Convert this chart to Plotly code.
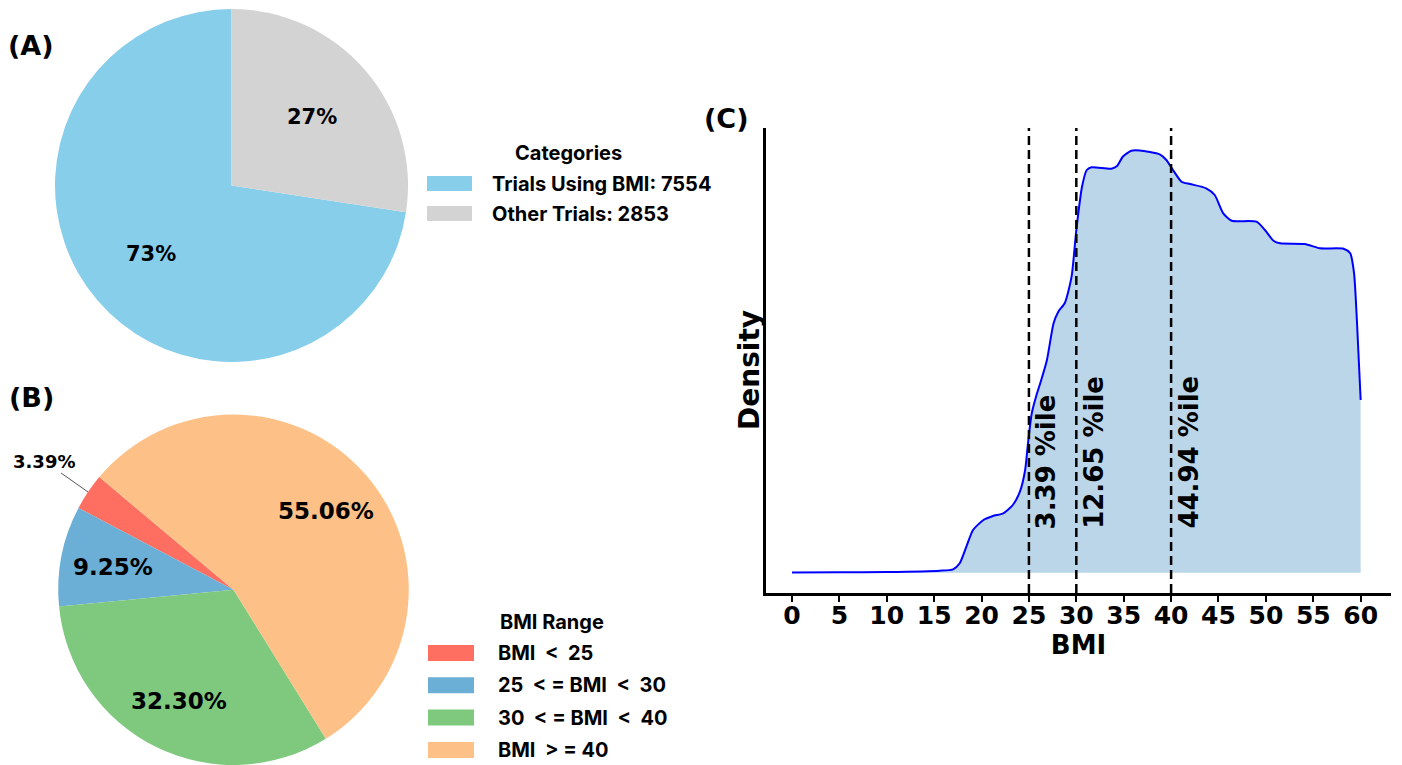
import math
import plotly.graph_objects as go

W, H = 1402, 765

# ---------------- Data ----------------
# Panel A
catA_labels = ["Trials Using BMI", "Other Trials"]
catA_counts = [7554, 2853]
catA_colors = ["#87CEEB", "#D3D3D3"]

# Panel B
catB_labels = ["BMI\u00a0 &lt;\u00a0 25", "25\u00a0 &lt; = BMI\u00a0 &lt;\u00a0 30",
               "30\u00a0 &lt; = BMI\u00a0 &lt;\u00a0 40", "BMI\u00a0 &gt; = 40"]
catB_pct = [3.39, 9.25, 32.30, 55.06]
catB_colors = ["#FF6F61", "#6BAED6", "#7FC97F", "#FDC086"]

# Panel C
bmi = [0, 5, 10, 15.6, 17.0, 17.7, 18.4, 19.1, 20.2, 21.2, 22.3, 23.3, 24.05, 24.6,
       24.9, 25.3, 25.8, 26.3, 26.9, 27.6, 28.1, 28.8, 29.5, 30.0, 30.6, 31.1, 31.6,
       33.7, 34.3, 34.9, 35.8, 36.7, 38.8, 39.5, 40.2, 41.1, 42.0, 43.7, 44.6, 45.5,
       46.4, 49.0, 49.9, 50.8, 51.5, 54.1, 55.7, 58.2, 58.9, 59.3, 59.6, 60.0]
density = [0.00002, 0.00004, 0.00007, 0.0002, 0.00034, 0.00094, 0.0026, 0.00427,
           0.00527, 0.00567, 0.00594, 0.00677, 0.0081, 0.01027, 0.01294, 0.01594,
           0.01777, 0.01927, 0.02127, 0.02494, 0.0261, 0.027, 0.0296, 0.03427,
           0.0386, 0.04027, 0.04054, 0.0404, 0.04067, 0.0416, 0.0422, 0.04222,
           0.04184, 0.04127, 0.04027, 0.0391, 0.03887, 0.03844, 0.03777, 0.03594,
           0.0352, 0.0351, 0.03427, 0.0332, 0.03294, 0.03287, 0.03244, 0.0324,
           0.03194, 0.02997, 0.02527, 0.01727]
thresholds = [25, 30, 40]
pctile = [3.39, 12.65, 44.94]
xticks = [0, 5, 10, 15, 20, 25, 30, 35, 40, 45, 50, 55, 60]

# ---------------- Layout constants ----------------
PIE_FONT = "DejaVu Sans"
LEG_FONT = "Inter"
AX_FONT = "DejaVu Sans"

# pie A geometry (pixels)
cAx, cAy, RA = 231.5, 185.5, 176.5
startA = 90.0
# pie B geometry (pixels)
RB = 175.25
cBx, cBy = 233.5, H - RB
startB = 140.0


def px(x):
    return x / W


def py(y):
    return 1 - y / H


def label_positions(values, start, cx, cy, R, dist):
    total = float(sum(values))
    cum = 0.0
    out = []
    for v in values:
        mid = math.radians(start + (cum + v / 2.0) / total * 360.0)
        cum += v
        out.append((cx + dist * R * math.cos(mid), cy - dist * R * math.sin(mid), mid))
    return out


def plotly_rotation(values, start):
    # plotly (counterclockwise) lays the first slice clockwise from `rotation`
    first = values[0] / float(sum(values)) * 360.0
    return 90.0 - start - first


fig = go.Figure()

fig.add_trace(go.Pie(
    labels=catA_labels, values=catA_counts, sort=False, direction="counterclockwise",
    rotation=plotly_rotation(catA_counts, startA),
    marker=dict(colors=catA_colors, line=dict(width=0)),
    textinfo="none", hoverinfo="label+value+percent", showlegend=False,
    domain=dict(x=[px(cAx - RA), px(cAx + RA)], y=[py(cAy + RA), py(cAy - RA)]),
))

fig.add_trace(go.Pie(
    labels=catB_labels, values=catB_pct, sort=False, direction="counterclockwise",
    rotation=plotly_rotation(catB_pct, startB),
    marker=dict(colors=catB_colors, line=dict(width=0)),
    textinfo="none", hoverinfo="label+percent", showlegend=False,
    domain=dict(x=[px(cBx - RB), px(cBx + RB)], y=[0, py(cBy - RB)]),
))

fig.add_trace(go.Scatter(
    x=bmi, y=density, mode="lines", fill="tozeroy",
    fillcolor="rgba(31,119,180,0.3)",
    line=dict(color="#0000FF", width=2, shape="spline", smoothing=0.6),
    showlegend=False, xaxis="x", yaxis="y",
))

annotations = []
shapes = []


def pann(x, y, text, font, xanchor="center", yanchor="middle", **kw):
    d = dict(x=px(x), y=py(y), xref="paper", yref="paper", showarrow=False, text=text,
             font=font, xanchor=xanchor, yanchor=yanchor)
    d.update(kw)
    annotations.append(d)


# Pie A percentage labels
totA = sum(catA_counts)
for (x, y, _), v in zip(label_positions(catA_counts, startA, cAx, cAy, RA, 0.6), catA_counts):
    pann(x, y, f"{100 * v / totA:.0f}%",
         dict(family=PIE_FONT, size=21, color="black", weight="bold"))

# Pie B percentage labels
posB = label_positions(catB_pct, startB, cBx, cBy + 1.25, RB, 0.7)
for i, ((x, y, mid), v) in enumerate(zip(posB, catB_pct)):
    if i == 0:
        ex, ey = cBx + RB * math.cos(mid), cBy - RB * math.sin(mid)
        annotations.append(dict(x=px(ex), y=py(ey), xref="paper", yref="paper",
                                showarrow=True, arrowhead=0, arrowwidth=1, arrowcolor="#555555",
                                ax=-44, ay=-31, text=f"{v:.2f}%",
                                font=dict(family=PIE_FONT, size=18, color="black", weight="bold")))
    else:
        pann(x, y, f"{v:.2f}%", dict(family=PIE_FONT, size=23, color="black", weight="bold"))

# Manual legends
legfont = dict(family=LEG_FONT, size=20, color="black", weight=700)
pann(568, 153, "Categories", legfont)
for i, (lab, cnt, col) in enumerate(zip(catA_labels, catA_counts, catA_colors)):
    yc = 183.5 + 30 * i
    shapes.append(dict(type="rect", xref="paper", yref="paper", x0=px(427), x1=px(472),
                       y0=py(yc + 7.5), y1=py(yc - 7.5), fillcolor=col, line=dict(width=0)))
    pann(490, yc, f"{lab}: {cnt}", legfont, xanchor="left")

pann(552, 622, "BMI Range", legfont)
for i, (lab, col) in enumerate(zip(catB_labels, catB_colors)):
    yc = 653 + 32.3 * i
    shapes.append(dict(type="rect", xref="paper", yref="paper", x0=px(428), x1=px(474),
                       y0=py(yc + 8), y1=py(yc - 8), fillcolor=col, line=dict(width=0)))
    pann(496, yc, lab, legfont, xanchor="left")

# Panel letters
for t, (x, y) in zip(["(A)", "(B)", "(C)"], [(31, 45), (31, 397), (726, 118)]):
    pann(x, y, t, dict(family=AX_FONT, size=27, color="black", weight="bold"))

# Threshold lines and percentile labels
for t, p in zip(thresholds, pctile):
    shapes.append(dict(type="line", xref="x", yref="y domain", x0=t, x1=t, y0=0, y1=1,
                       line=dict(color="black", width=2.5, dash="9px,5px")))
    annotations.append(dict(x=t, y=(593 - 531) / (593 - 128), xref="x", yref="y domain",
                            xshift=17, showarrow=False, textangle=-90, yanchor="bottom",
                            xanchor="center", text=f"{p:.2f} %ile",
                            font=dict(family=AX_FONT, size=26, color="black", weight="bold")))

# Density label
pann(749, 370, "Density", dict(family=AX_FONT, size=28, color="black", weight="bold"),
     textangle=-90)

fig.update_layout(
    width=W, height=H, margin=dict(l=0, r=0, t=0, b=0),
    paper_bgcolor="white", plot_bgcolor="white",
    xaxis=dict(domain=[px(766), px(1391)], range=[-2.74, 63.2], tickvals=xticks,
               ticks="outside", ticklen=6, tickwidth=2, tickcolor="black",
               ticklabelstandoff=-8,
               showline=True, linewidth=3, linecolor="black", showgrid=False, zeroline=False,
               tickfont=dict(family=AX_FONT, size=25, color="black", weight="bold"),
               title=dict(text="BMI", standoff=0,
                          font=dict(family=AX_FONT, size=26, color="black", weight="bold")),
               anchor="y"),
    yaxis=dict(domain=[py(593), py(128)], range=[-0.00203, 0.04447],
               showline=True, linewidth=3, linecolor="black", showgrid=False, zeroline=False,
               showticklabels=False, ticks="", anchor="x"),
    annotations=annotations, shapes=shapes,
)

fig.write_html("out.html")
